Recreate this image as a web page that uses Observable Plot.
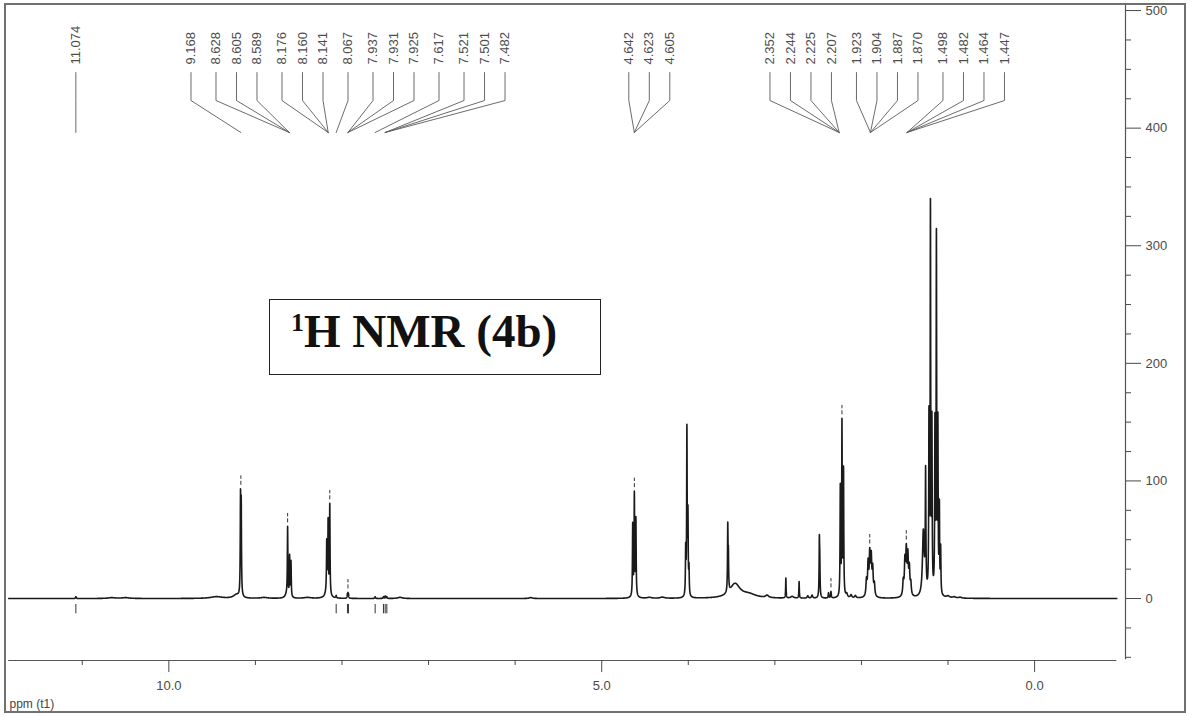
<!DOCTYPE html>
<html><head><meta charset="utf-8">
<script src="https://cdn.jsdelivr.net/npm/d3@7"></script>
<script src="https://cdn.jsdelivr.net/npm/@observablehq/plot@0.6"></script>
<style>
body{margin:0;background:#fff;}
#wrap{position:relative;width:1192px;height:716px;overflow:hidden;font-family:"Liberation Sans",Arial,sans-serif;}
#border{position:absolute;left:4px;top:3px;width:1182px;height:710px;border:2px solid #707070;box-sizing:border-box;pointer-events:none;}
#title{position:absolute;left:269px;top:299px;width:332px;height:76px;border:1.5px solid #222;box-sizing:border-box;background:#fff;}
#title .t{position:absolute;left:21px;top:8px;font:bold 47px/1 "Liberation Serif","Times New Roman",serif;color:#111;white-space:nowrap;}
#title .s{font-size:26px;vertical-align:16px;}
</style></head>
<body><div id="wrap"><div id="chart"></div><div id="title"><span class="t"><span class="s">1</span>H NMR (4b)</span></div><div id="border"></div></div>
<script>
// ---- spectrum components: position (ppm), height (intensity), half-width (ppm)
const peakPpm = [11.074,10.66,10.50,9.45,9.22,9.172,9.164,8.90,8.64,8.628,8.605,8.589,8.40,8.17,8.176,8.160,8.141,8.067,7.937,7.931,7.925,7.617,7.521,7.501,7.482,7.33,5.82,
  4.62,4.642,4.623,4.605,4.45,4.30,4.030,4.016,4.004,3.992,3.544,3.537,3.46,3.30,3.09,2.873,2.80,2.72,2.62,2.57,2.486,2.481,2.38,2.352,2.244,2.225,2.207,2.17,2.12,2.07,
  1.942,1.923,1.904,1.887,1.870,1.851,1.517,1.498,1.482,1.464,1.447,1.430,1.285,1.259,1.220,1.203,1.186,1.151,1.134,1.117,1.100,1.085,1.00,0.93,0.86];
const peakHeight = [1.5,0.7,0.7,1.5,3,80,74,0.8,3,58,34,30,0.8,8,40,58,76,2,3,3.5,3,1.5,1.5,2,1.5,1,0.8,
  3,60,84,64,0.8,1,38,140,66,22,54,28,12,3,2,17,1.5,14,2,2.5,46,24,4.5,5.5,92,146,106,3,2.5,2,
  13,27,34,31,22,10,12,28,36,32,22,10,55,100,145,325,140,140,300,140,72,38,1.5,1,0.8];
const peakWidth = [0.004,0.05,0.05,0.08,0.04,0.0035,0.0035,0.05,0.02,0.0035,0.0035,0.0035,0.05,0.02,0.0035,0.0035,0.0035,0.004,0.0035,0.0035,0.0035,0.004,0.004,0.004,0.004,0.03,0.02,
  0.02,0.0035,0.0035,0.0035,0.03,0.03,0.0035,0.0035,0.0035,0.0035,0.0035,0.0035,0.07,0.1,0.02,0.003,0.02,0.003,0.008,0.008,0.0035,0.0035,0.004,0.004,0.0035,0.0035,0.0035,0.01,0.01,0.01,
  0.007,0.007,0.007,0.007,0.007,0.007,0.007,0.007,0.007,0.007,0.007,0.007,0.012,0.004,0.0035,0.0035,0.0035,0.0035,0.0035,0.0035,0.0035,0.0035,0.02,0.02,0.02];

// ---- peak-pick labels, grouped by multiplet
const multiplets = [
  [11.074],
  [9.168],
  [8.628, 8.605, 8.589],
  [8.176, 8.160, 8.141],
  [8.067],
  [7.937, 7.931, 7.925],
  [7.617],
  [7.521, 7.501, 7.482],
  [4.642, 4.623, 4.605],
  [2.352, 2.244, 2.225, 2.207],
  [1.923, 1.904, 1.887, 1.870],
  [1.498, 1.482, 1.464, 1.447]
];
const markAbove = [9.168, 8.628, 8.141, 7.931, 4.623, 2.352, 2.225, 1.904, 1.482];
const markBelow = [11.074, 8.067, 7.937, 7.925, 7.617, 7.521, 7.501, 7.482];

// ---- axes
const xTicksMajor = [10, 5, 0];
const xTicksMinor = [11, 9, 8, 7, 6, 4, 3, 2, 1];
const yTicksMajor = [0, 100, 200, 300, 400, 500];
const yTicksMinor = [-50, -25, 25, 50, 75, 125, 150, 175, 225, 250, 275, 325, 350, 375, 425, 450, 475];

// ---- scale extents
const xDomain = [11.875, -1.05];
const yDomain = [-52.7, 504.3];
const specStart = 11.85, specEnd = -0.95;

// build the spectrum trace from the peak list (Lorentzian lines)
const step = 0.0005;
const nPts = Math.round((specStart - specEnd) / step);
const spectrum = [];
for (let k = 0; k <= nPts; k++) {
  const p = specStart - k * step;
  let s = 0;
  for (let i = 0; i < peakPpm.length; i++) {
    const d = (p - peakPpm[i]) / peakWidth[i];
    s += peakHeight[i] / (1 + d * d);
  }
  spectrum.push({ppm: p, v: s});
}

// label layout: keep labels near their multiplet centre with minimum spacing (isotonic fit)
const GAP_IN = 0.2368, GAP_OUT = 0.2888, BIAS = 0.173;
const items = [];
multiplets.forEach((m, g) => { const t = d3.mean(m); m.forEach(v => items.push({label: v, target: t, group: g})); });
let G = 0;
items.forEach((it, i) => { if (i > 0) G += it.group === items[i - 1].group ? GAP_IN : GAP_OUT; it.G = G; it.v = -it.target - G; });
const blocks = [];
items.forEach((it, i) => {
  blocks.push({sum: it.v, n: 1, start: i});
  while (blocks.length > 1) {
    const b = blocks[blocks.length - 1], a = blocks[blocks.length - 2];
    if (a.sum / a.n > b.sum / b.n) { a.sum += b.sum; a.n += b.n; blocks.pop(); } else break;
  }
});
blocks.forEach(b => {
  const q = b.sum / b.n;
  for (let i = b.start; i < b.start + b.n; i++) {
    items[i].lx = -(q + items[i].G) - (b.n > 1 ? BIAS : 0);
  }
});
const LY = [447.3, 423.5, 396.3];
const leaders = items.flatMap((d, i) => [
  {id: i, x: d.lx, y: LY[0]}, {id: i, x: d.lx, y: LY[1]}, {id: i, x: d.target, y: LY[2]}
]);

const topMarks = markAbove.map(p => {
  const m = d3.max(spectrum.filter(d => Math.abs(d.ppm - p) < 0.012), d => d.v);
  return {ppm: p, y1: m + 3, y2: m + 11};
});

const fmt3 = d3.format(".3f");
const plot = Plot.plot({
  width: 1192, height: 716,
  marginLeft: 6, marginRight: 67, marginTop: 5, marginBottom: 56,
  style: {fontFamily: "'Liberation Sans', Arial, sans-serif", background: "white", color: "#4a4a4a"},
  x: {domain: xDomain, label: null},
  y: {domain: yDomain, label: null},
  marks: [
    // axes
    Plot.ruleY([yDomain[0]], {x1: specStart, x2: specEnd, stroke: "#555", strokeWidth: 1.2}),
    Plot.axisX(xTicksMajor, {anchor: "bottom", tickSize: 12, tickPadding: 8, tickFormat: d3.format(".1f"), fontSize: 13, label: null}),
    Plot.axisX(xTicksMinor, {anchor: "bottom", tickSize: 5, tickFormat: () => "", label: null}),
    Plot.ruleX([xDomain[1]], {y1: -52, y2: yDomain[1], stroke: "#555", strokeWidth: 1.2}),
    Plot.axisY(yTicksMajor, {anchor: "right", tickSize: 15, tickPadding: 5, fontSize: 13, label: null}),
    Plot.axisY(yTicksMinor, {anchor: "right", tickSize: 5, tickFormat: () => "", label: null}),
    Plot.text(["ppm (t1)"], {frameAnchor: "bottom-left", dx: 3, dy: 47, textAnchor: "start", lineAnchor: "bottom", fontSize: 12, fill: "#444"}),
    // spectrum
    Plot.line(spectrum, {x: "ppm", y: "v", stroke: "#1a1a1a", strokeWidth: 1.6}),
    // peak markers
    Plot.ruleX(topMarks, {x: "ppm", y1: "y1", y2: "y2", stroke: "#333", strokeDasharray: "4,2"}),
    Plot.ruleX(markBelow, {x: d => d, y1: -5, y2: -13, stroke: "#333"}),
    // peak labels
    Plot.line(leaders, {x: "x", y: "y", z: "id", stroke: "#5a5a5a", strokeWidth: 0.9}),
    Plot.text(items, {x: "lx", text: d => fmt3(d.label), frameAnchor: "top", dy: 59, rotate: -90, textAnchor: "start", lineAnchor: "middle", fontSize: 13, fill: "#4d4d4d"})
  ]
});
document.getElementById("chart").appendChild(plot);
</script></body></html>
